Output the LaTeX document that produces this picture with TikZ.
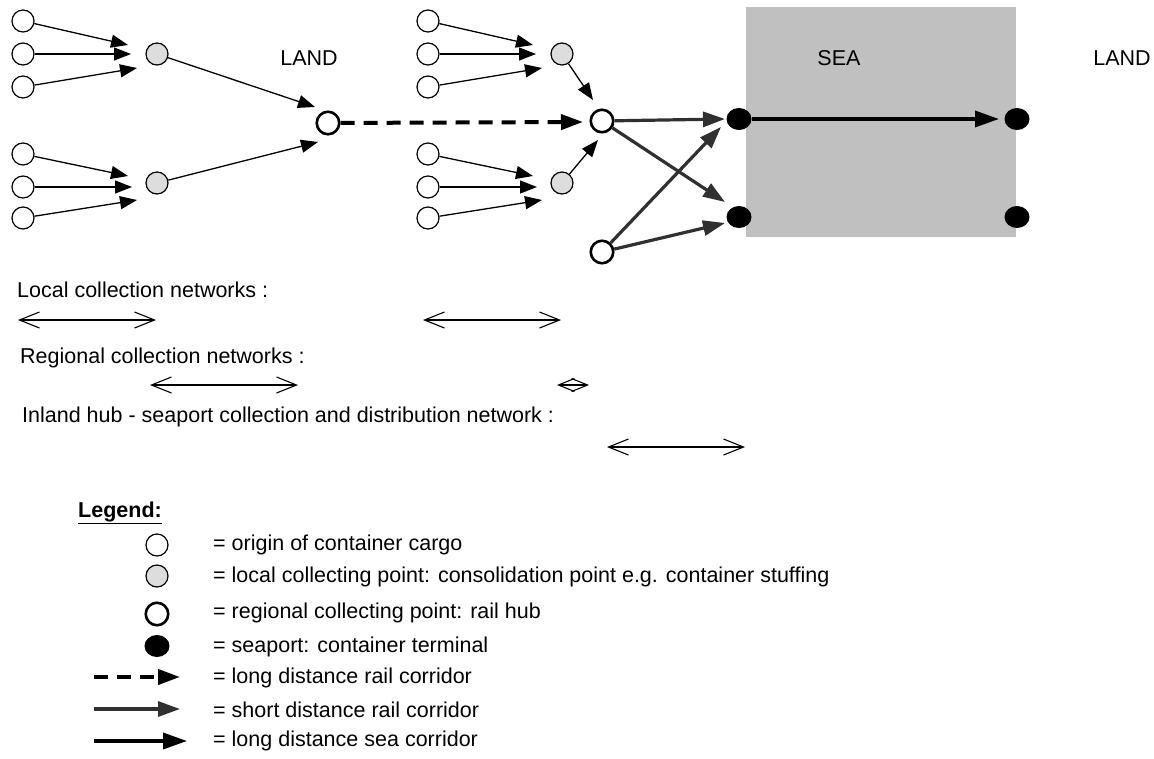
\documentclass[tikz,border=0pt]{standalone}
\usepackage{fontspec}
\setmainfont{Liberation Sans}
\usetikzlibrary{arrows.meta,shapes.geometric}
\definecolor{lgray}{HTML}{DDDDDD}
\definecolor{seagray}{HTML}{C0C0C0}
\definecolor{railgray}{HTML}{303030}
\begin{document}
\begin{tikzpicture}[x=1pt,y=-1pt,
  every node/.style={font=\fontsize{21.5}{25}\selectfont},
  origin/.style={circle,draw,line width=1.2pt,fill=white,minimum size=22pt,inner sep=0pt},
  localpt/.style={origin,fill=lgray},
  hub/.style={circle,draw,line width=2.6pt,fill=white,minimum size=22.5pt,inner sep=0pt},
  port/.style={ellipse,fill=black,minimum width=25pt,minimum height=22pt,inner sep=0pt},
  feed/.style={line width=1.3pt,-{Triangle[length=17pt,width=13pt]}},
  longrail/.style={line width=4pt,dash pattern=on 14pt off 9pt,-{Triangle[length=22pt,width=15pt]}},
  shortrail/.style={railgray,line width=3.2pt,-{Triangle[length=22pt,width=15pt]}},
  searoute/.style={line width=3.5pt,-{Triangle[length=24pt,width=16pt]}},
  span/.style={line width=1.1pt,{Straight Barb[length=20pt,width=16pt]}-{Straight Barb[length=20pt,width=16pt]}},
  lbl/.style={anchor=west,inner sep=0pt},
]
\useasboundingbox (0,0) rectangle (1154,758);

% sea area
\fill[seagray] (746,7) rectangle (1016,237);
\node (land1) at (309,58) {LAND};
\node (sea) at (839,58) {SEA};
\node (land2) at (1122,58) {LAND};

% origins of cargo
\foreach \y [count=\i] in {21,54,87,154,187,218} {
  \node[origin] (a\i) at (23,\y) {};
  \node[origin] (b\i) at (428,\y) {};
}
% local collecting points
\node[localpt] (g1) at (157,54) {};
\node[localpt] (g2) at (157,183) {};
\node[localpt] (g3) at (562,54) {};
\node[localpt] (g4) at (562,183) {};
% rail hubs
\node[hub] (h1) at (328,123) {};
\node[hub] (h2) at (602,121) {};
\node[hub] (h3) at (602,252) {};
% seaports
\node[port] (p1) at (739,119) {};
\node[port] (p2) at (739,217) {};
\node[port] (p3) at (1017,119) {};
\node[port] (p4) at (1017,217) {};

% arrow tips of the feeder links
\foreach \dx/\grp in {0/a,405/b} {
  \coordinate (\grp t1) at (128+\dx,45);
  \coordinate (\grp t2) at (131+\dx,54);
  \coordinate (\grp t3) at (137+\dx,68);
  \coordinate (\grp t4) at (128+\dx,176);
  \coordinate (\grp t5) at (132+\dx,187);
  \coordinate (\grp t6) at (137+\dx,200);
}
\foreach \i in {1,...,6} {
  \draw[feed] (a\i) -- (at\i);
  \draw[feed] (b\i) -- (bt\i);
}
\coordinate (u1) at (315,107);
\coordinate (u2) at (318,142);
\coordinate (u3) at (593,100);
\coordinate (u4) at (598,140);
\draw[feed] (g1) -- (u1);
\draw[feed] (g2) -- (u2);
\draw[feed] (g3) -- (u3);
\draw[feed] (g4) -- (u4);

% corridors
\coordinate (d1) at (583,122);
\draw[longrail] (h1) -- (d1);
\coordinate (r1) at (725,119);
\coordinate (r2) at (725,202);
\coordinate (r3) at (721,127);
\coordinate (r4) at (725,223);
\draw[shortrail] (h2) -- (r1);
\draw[shortrail] (h2) -- (r2);
\draw[shortrail] (h3) -- (r3);
\draw[shortrail] (h3) -- (r4);
\coordinate (s1) at (999,119);
\draw[searoute] (p1) -- (s1);

% network extents
\node[lbl] (loc) at (17,290) {Local collection networks :};
\coordinate (l1a) at (18,320);  \coordinate (l1b) at (156,320);
\coordinate (l2a) at (423,320); \coordinate (l2b) at (561,320);
\draw[span] (l1a) -- (l1b);
\draw[span] (l2a) -- (l2b);
\node[lbl] (reg) at (20,358) {Regional collection networks :};
\coordinate (m1a) at (150,385); \coordinate (m1b) at (298,385);
\coordinate (m2a) at (557,385); \coordinate (m2b) at (589,385);
\draw[span] (m1a) -- (m1b);
\draw[line width=1.1pt,{Straight Barb[length=16pt,width=13pt]}-{Straight Barb[length=16pt,width=13pt]}] (m2a) -- (m2b);
\node[lbl] (inl) at (22,417) {Inland hub - seaport collection and distribution network :};
\coordinate (n1a) at (607,447); \coordinate (n1b) at (745,447);
\draw[span] (n1a) -- (n1b);

% legend
\node[lbl] (leg) at (78,513) {\underline{\textbf{Legend:}}};
\node[origin] (k1) at (157,545) {};
\node[localpt] (k2) at (157,576) {};
\node[hub] (k3) at (157,614) {};
\node[port] (k4) at (157,646) {};
\coordinate (k5a) at (94,677); \coordinate (k5b) at (180,677);
\coordinate (k6a) at (94,709); \coordinate (k6b) at (180,709);
\coordinate (k7a) at (94,741); \coordinate (k7b) at (187,741);
\draw[longrail] (k5a) -- (k5b);
\draw[shortrail] (k6a) -- (k6b);
\draw[searoute] (k7a) -- (k7b);
\node[lbl] (e1) at (213,545) {= origin of container cargo};
\node[lbl] (e2) at (213,577) {= local collecting point: consolidation point e.g. container stuffing};
\node[lbl] (e3) at (213,613) {= regional collecting point: rail hub};
\node[lbl] (e4) at (213,647) {= seaport: container terminal};
\node[lbl] (e5) at (213,678) {= long distance rail corridor};
\node[lbl] (e6) at (213,710) {= short distance rail corridor};
\node[lbl] (e7) at (213,741) {= long distance sea corridor};
\end{tikzpicture}
\end{document}
